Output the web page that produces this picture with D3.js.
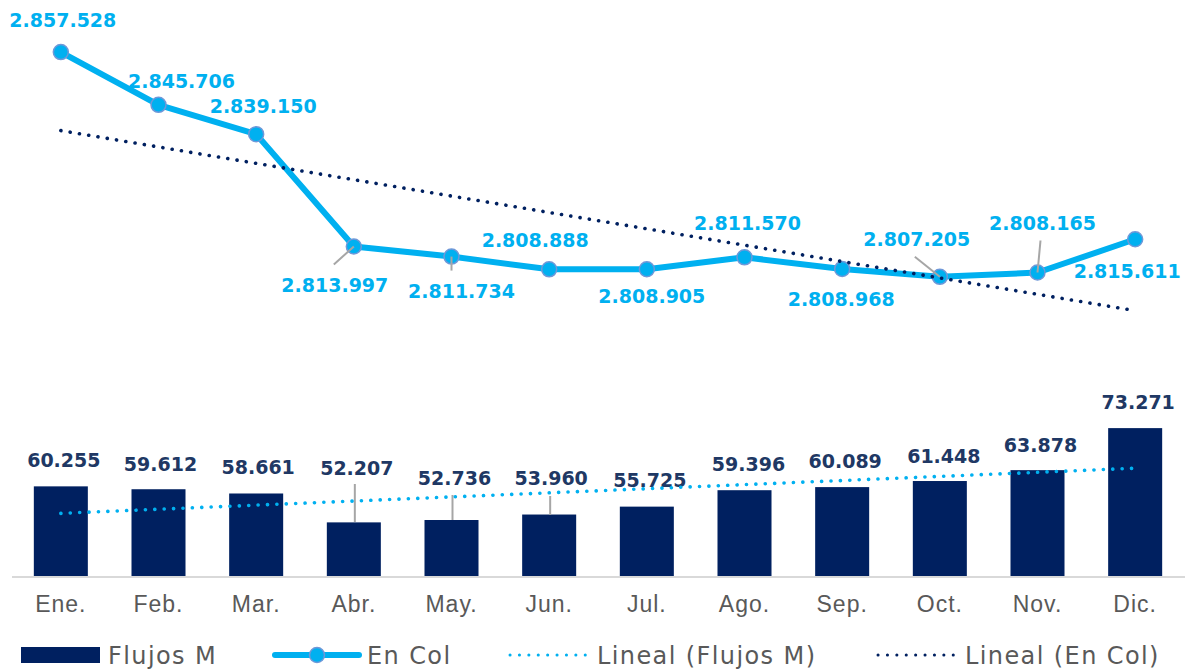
<!DOCTYPE html>
<html lang="es">
<head>
    <meta charset="UTF-8">
    <title>Flujos M y En Col</title>
    <script src="https://d3js.org/d3.v7.min.js"></script>
    <style>
        body {
            margin: 0;
            background: #fff;
        }
        svg {
            display: block;
            font-family: "DejaVu Sans", sans-serif;
        }
        .cat { fill: #595959; font-size: 23px; letter-spacing: 1px; }
        .legend text { fill: #595959; font-size: 24px; letter-spacing: 1.4px; }
        .barLabel { fill: #203864; font-size: 19px; font-weight: bold; }
        .lineLabel { fill: #00B0F0; font-size: 19px; font-weight: bold; }
    </style>
</head>
<body>
    <div id="chart"></div>
    <script>
        const width = 1186;
        const height = 671;

        // Daten
        const meses = ["Ene.", "Feb.", "Mar.", "Abr.", "May.", "Jun.", "Jul.", "Ago.", "Sep.", "Oct.", "Nov.", "Dic."];
        const flujosM = [60255, 59612, 58661, 52207, 52736, 53960, 55725, 59396, 60089, 61448, 63878, 73271];
        const enCol = [2857528, 2845706, 2839150, 2813997, 2811734, 2808888, 2808905, 2811570, 2808968, 2807205, 2808165, 2815611];
        const leyenda = ["Flujos M", "En Col", "Lineal (Flujos M)", "Lineal (En Col)"];

        // Position der Beschriftungen (dx, Grundlinie, Hinweislinie)
        const barLabelPos = [
            {dx: 3, y: 467}, {dx: 2, y: 471}, {dx: 2, y: 474}, {dx: 3, y: 475, lead: [484, 522]},
            {dx: 3, y: 485, lead: [495, 520]}, {dx: 2, y: 485, lead: [496, 515]}, {dx: 3, y: 487},
            {dx: 4, y: 471}, {dx: 3, y: 468}, {dx: 4, y: 463}, {dx: 3, y: 452}, {dx: 3, y: 409}
        ];
        const lineLabelPos = [
            {dx: 2, y: 27}, {dx: 23, y: 88}, {dx: 7, y: 113},
            {dx: -19, y: 292, lead: [-20, 18]}, {dx: 10, y: 298, lead: [0, 14]},
            {dx: -14, y: 247}, {dx: 5, y: 303}, {dx: 3, y: 230}, {dx: -1, y: 306},
            {dx: -23, y: 246, lead: [-25, -20]}, {dx: 5, y: 230, lead: [3, -32]},
            {dx: -8, y: 278}
        ];

        const fmt = d3.formatLocale({decimal: ",", thousands: ".", grouping: [3], currency: ["", ""]}).format(",d");

        const svg = d3.select("#chart").append("svg")
            .attr("width", width)
            .attr("height", height);

        const x = d3.scaleBand()
            .domain(meses)
            .range([12, 1184])
            .paddingInner(0.447)
            .paddingOuter(0.2235);
        const cx = m => x(m) + x.bandwidth() / 2;

        const yBar = d3.scaleLinear().domain([40000, 80000]).range([577, 398]);
        const yLine = d3.scaleLinear().domain([2800000, 2860000]).range([309, 41]);

        // lineare Regression wie Excel-Trendlinie
        function trend(vals) {
            const n = vals.length;
            const xs = d3.range(1, n + 1);
            const mx = d3.mean(xs), my = d3.mean(vals);
            const sxy = d3.sum(xs, (v, i) => (v - mx) * (vals[i] - my));
            const sxx = d3.sum(xs, v => (v - mx) * (v - mx));
            const b = sxy / sxx, a = my - b * mx;
            return [a + b * 1, a + b * n];
        }

        // Balken
        svg.selectAll("rect.bar")
            .data(flujosM)
            .join("rect")
            .attr("class", "bar")
            .attr("x", (d, i) => x(meses[i]))
            .attr("y", d => yBar(d))
            .attr("width", x.bandwidth())
            .attr("height", d => yBar(40000) - yBar(d))
            .attr("fill", "#002060");

        // Achse
        svg.append("g")
            .attr("transform", "translate(0,577)")
            .call(d3.axisBottom(x).tickSize(0).tickPadding(0))
            .call(g => g.select(".domain").attr("stroke", "#D9D9D9").attr("stroke-width", 2)
                .attr("d", "M12,0H1185"))
            .call(g => g.selectAll("text").attr("class", "cat").attr("dy", null).attr("y", 35)
                .attr("font-family", null).attr("font-size", null).attr("fill", null));

        // Balkenbeschriftungen
        svg.selectAll("line.barLead")
            .data(flujosM.map((d, i) => i).filter(i => barLabelPos[i].lead))
            .join("line")
            .attr("x1", i => cx(meses[i]) + 1)
            .attr("x2", i => cx(meses[i]) + 1)
            .attr("y1", i => barLabelPos[i].lead[0])
            .attr("y2", i => barLabelPos[i].lead[1])
            .attr("stroke", "#A6A6A6")
            .attr("stroke-width", 2);

        svg.selectAll("text.barLabel")
            .data(flujosM)
            .join("text")
            .attr("class", "barLabel")
            .attr("text-anchor", "middle")
            .attr("x", (d, i) => cx(meses[i]) + barLabelPos[i].dx)
            .attr("y", (d, i) => barLabelPos[i].y)
            .text(d => fmt(d));

        // Linie En Col
        const line = d3.line()
            .x((d, i) => cx(meses[i]))
            .y(d => yLine(d));

        svg.append("path")
            .datum(enCol)
            .attr("d", line)
            .attr("fill", "none")
            .attr("stroke", "#00B0F0")
            .attr("stroke-width", 6)
            .attr("stroke-linejoin", "round");

        svg.selectAll("circle.pt")
            .data(enCol)
            .join("circle")
            .attr("class", "pt")
            .attr("cx", (d, i) => cx(meses[i]))
            .attr("cy", d => yLine(d))
            .attr("r", 7.5)
            .attr("fill", "#00B0F0")
            .attr("stroke", "#6F98D8")
            .attr("stroke-width", 1.5);

        // Beschriftungen der Linie
        svg.selectAll("line.lineLead")
            .data(enCol.map((d, i) => i).filter(i => lineLabelPos[i].lead))
            .join("line")
            .attr("x1", i => cx(meses[i]))
            .attr("y1", i => yLine(enCol[i]))
            .attr("x2", i => cx(meses[i]) + lineLabelPos[i].lead[0])
            .attr("y2", i => yLine(enCol[i]) + lineLabelPos[i].lead[1])
            .attr("stroke", "#A6A6A6")
            .attr("stroke-width", 2);

        svg.selectAll("text.lineLabel")
            .data(enCol)
            .join("text")
            .attr("class", "lineLabel")
            .attr("text-anchor", "middle")
            .attr("x", (d, i) => cx(meses[i]) + lineLabelPos[i].dx)
            .attr("y", (d, i) => lineLabelPos[i].y)
            .text(d => fmt(d));

        // Trendlinien
        const x0 = cx(meses[0]), x1 = cx(meses[meses.length - 1]);
        const tBar = trend(flujosM);
        const tLine = trend(enCol);

        svg.append("line")
            .attr("x1", x0).attr("y1", yBar(tBar[0]))
            .attr("x2", x1).attr("y2", yBar(tBar[1]))
            .attr("stroke", "#00B0F0")
            .attr("stroke-width", 3.6)
            .attr("stroke-linecap", "round")
            .attr("stroke-dasharray", "0.1 9.3");

        svg.append("line")
            .attr("x1", x0).attr("y1", yLine(tLine[0]))
            .attr("x2", x1).attr("y2", yLine(tLine[1]))
            .attr("stroke", "#002060")
            .attr("stroke-width", 3.6)
            .attr("stroke-linecap", "round")
            .attr("stroke-dasharray", "0.1 9.3");

        // Legende
        const legend = svg.append("g").attr("class", "legend");
        const legX = [21, 275, 510, 878];
        const legY = 655;

        legend.append("rect")
            .attr("x", legX[0]).attr("y", legY - 8)
            .attr("width", 79).attr("height", 16)
            .attr("fill", "#002060");

        legend.append("line")
            .attr("x1", legX[1]).attr("x2", legX[1] + 84)
            .attr("y1", legY).attr("y2", legY)
            .attr("stroke", "#00B0F0").attr("stroke-width", 6).attr("stroke-linecap", "round");
        legend.append("circle")
            .attr("cx", legX[1] + 42).attr("cy", legY).attr("r", 7.5)
            .attr("fill", "#00B0F0").attr("stroke", "#6F98D8").attr("stroke-width", 1.5);

        legend.append("line")
            .attr("x1", legX[2]).attr("x2", legX[2] + 76)
            .attr("y1", legY).attr("y2", legY)
            .attr("stroke", "#00B0F0").attr("stroke-width", 3)
            .attr("stroke-linecap", "round").attr("stroke-dasharray", "0.1 9.3");

        legend.append("line")
            .attr("x1", legX[3]).attr("x2", legX[3] + 76)
            .attr("y1", legY).attr("y2", legY)
            .attr("stroke", "#002060").attr("stroke-width", 3)
            .attr("stroke-linecap", "round").attr("stroke-dasharray", "0.1 9.3");

        const legTextX = [108, 367, 597, 965];
        legend.selectAll("text")
            .data(leyenda)
            .join("text")
            .attr("x", (d, i) => legTextX[i])
            .attr("y", legY + 9)
            .text(d => d);
    </script>
</body>
</html>
